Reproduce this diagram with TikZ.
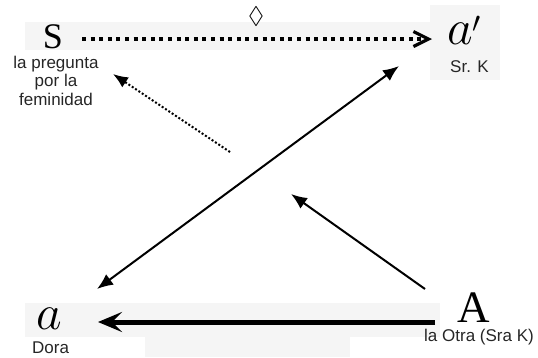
\documentclass[tikz,border=0pt]{standalone}
\usepackage{graphicx}
\usepackage{amssymb}
\usepackage{fontspec}
\newfontfamily\labelfont{Liberation Sans}
\newfontfamily\bigserif{Liberation Serif}
\usetikzlibrary{arrows.meta}
\tikzset{
  band/.style={fill=black!4, draw=none},
  lbl/.style={font=\labelfont\fontsize{17}{18.5}\selectfont, text=black!85, inner sep=0pt},
  bigletter/.style={inner sep=0pt},
  thinarrow/.style={line width=2pt, -{Latex[length=16pt,width=13pt]}},
  dotline/.style={line width=2pt, dash pattern=on 2pt off 2pt, -{Latex[length=15pt,width=12pt]}},
  topdots/.style={line width=4pt, dash pattern=on 4pt off 4.6pt, -{Straight Barb[length=15pt,width=15pt,line width=3.2pt]}},
  heavyarrow/.style={line width=5pt, -{Stealth[length=24pt,width=20pt,inset=10pt]}}
}
\begin{document}
\begin{tikzpicture}[x=1pt,y=-1pt]
\useasboundingbox (0,0) rectangle (538,357);
% faint background bands
\fill[band] (25,22) rectangle (440,50);
\fill[band] (430,5) rectangle (500,80);
\fill[band] (25,303) rectangle (440,337);
\fill[band] (145,337) rectangle (350,357);
% main symbols
\node[bigletter, font=\bigserif\fontsize{36}{36}\selectfont, anchor=base] (S) at (53,48) {S};
\node[bigletter, font=\fontsize{23}{23}\selectfont, anchor=base west] (ap) at (447,44) {\scalebox{2}{$a$}\raisebox{-4pt}{\scalebox{1.7}{$'$}}};
\node[bigletter, font=\fontsize{23}{23}\selectfont, anchor=base west] (a) at (36,329) {\scalebox{2}{$a$}};
\node[bigletter, font=\bigserif\fontsize{45}{45}\selectfont, anchor=base] (A) at (474,322) {A};
\node[bigletter, font=\fontsize{24}{24}\selectfont] (loz) at (256,17) {$\lozenge$};
% labels
\node[lbl, align=center, anchor=base] (pq) at (56,105) {la pregunta\\por la\\feminidad};
\node[lbl, anchor=base west] (srk) at (450,72) {Sr. K};
\node[lbl, anchor=base west] (dora) at (32,353) {Dora};
\node[lbl, anchor=base west] (otra) at (424,341) {la Otra (Sra K)};
% connector end points
\coordinate (t1) at (82,39);
\coordinate (t2) at (432,39);
\coordinate (d1) at (230,152);
\coordinate (d2) at (113,74);
\coordinate (x1) at (97,289);
\coordinate (x2) at (399,66);
\coordinate (m1) at (425,289);
\coordinate (m2) at (291,194);
\coordinate (b1) at (435,322);
\coordinate (b2) at (98,322);
% connectors
\draw[topdots] (t1) -- (t2);
\draw[dotline] (d1) -- (d2);
\draw[thinarrow, {Latex[length=16pt,width=13pt]}-{Latex[length=16pt,width=13pt]}] (x1) -- (x2);
\draw[thinarrow] (m1) -- (m2);
\draw[heavyarrow] (b1) -- (b2);
\end{tikzpicture}
\end{document}
